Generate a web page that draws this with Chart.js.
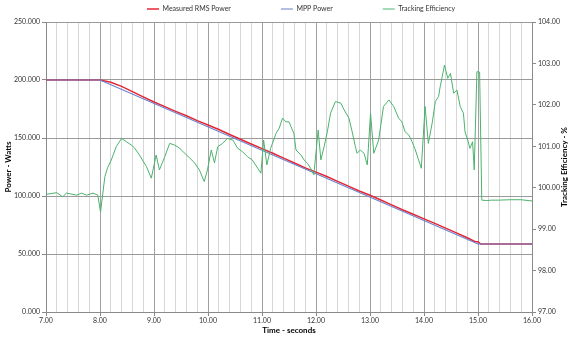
<!DOCTYPE html>
<html>
<head>
<meta charset="utf-8">
<script src="https://cdn.jsdelivr.net/npm/chart.js@4.4.1/dist/chart.umd.min.js"></script>
<style>
  body { margin: 0; background: #fff; }
  #wrap { width: 576px; height: 344px; }
</style>
</head>
<body>
<div id="wrap"><canvas id="tracking"></canvas></div>
<script>
// Measured RMS power (W)
const rmsTime = [7, 8, 8.2, 8.4, 8.6, 8.8, 9, 9.2, 9.4, 9.6, 9.8, 10, 10.2, 10.4, 10.6, 10.8, 11, 11.2, 11.4, 11.6, 11.8,
  12, 12.2, 12.4, 12.6, 12.8, 13, 13.2, 13.4, 13.6, 13.8, 14, 14.2, 14.4, 14.6, 14.8, 14.95, 15, 15.05, 16];
const rmsPower = [200, 200, 198, 194.5, 190, 185.5, 181, 177, 173, 169.2, 165, 161.2, 157.3, 153, 148.9, 144.8, 140.8, 136.8, 132.6, 128.5, 124.2,
  120.6, 116.8, 112.6, 108.5, 104.3, 100.6, 96.5, 92.4, 88.2, 84.3, 80.3, 76.4, 72.3, 68.2, 64, 60.6, 60.6, 58.6, 58.6];

// MPP power (W)
const mppTime = [7, 8, 15, 16];
const mppPower = [200, 200, 58.6, 58.6];

// tracking efficiency (%)
const effTime = [7, 7.2, 7.31, 7.38, 7.57, 7.66, 7.75, 7.87, 7.96, 8.01, 8.09, 8.14, 8.21, 8.3, 8.4, 8.49, 8.58, 8.64, 8.73, 8.86,
  8.95, 9.04, 9.1, 9.2, 9.29, 9.38, 9.47, 9.56, 9.66, 9.75, 9.84, 9.93, 9.99, 10.06, 10.12, 10.18, 10.27, 10.36, 10.46, 10.55,
  10.64, 10.73, 10.82, 10.92, 10.98, 11.03, 11.09, 11.16, 11.26, 11.32, 11.38, 11.44, 11.5, 11.59, 11.63, 11.72, 11.78, 11.84, 11.9, 11.96,
  12.04, 12.09, 12.15, 12.21, 12.27, 12.36, 12.46, 12.52, 12.61, 12.67, 12.73, 12.76, 12.82, 12.89, 12.95, 13.01, 13.07, 13.16, 13.25, 13.35,
  13.44, 13.53, 13.59, 13.65, 13.72, 13.78, 13.84, 13.9, 13.95, 14.02, 14.08, 14.15, 14.21, 14.27, 14.3, 14.38, 14.44, 14.49, 14.55, 14.61,
  14.67, 14.73, 14.76, 14.82, 14.85, 14.9, 14.93, 14.98, 15.03, 15.07, 15.16, 15.25, 15.38, 15.6, 15.8, 16];
const effValue = [99.84, 99.88, 99.78, 99.87, 99.82, 99.87, 99.82, 99.87, 99.82, 99.41, 100.27, 100.48, 100.67, 100.99, 101.19, 101.11, 101.03, 100.96, 100.79, 100.51,
  100.23, 100.79, 100.43, 100.75, 101.07, 101.03, 100.96, 100.84, 100.72, 100.6, 100.43, 100.15, 100.43, 100.91, 100.6, 100.99, 101.07, 101.19, 101.15, 100.95,
  100.87, 100.75, 100.67, 100.47, 100.35, 101.15, 100.55, 100.95, 101.31, 101.44, 101.68, 101.59, 101.59, 101.31, 100.91, 100.79, 100.67, 100.59, 100.47, 100.31,
  101.39, 100.67, 100.99, 101.35, 101.8, 102.08, 102.04, 101.88, 101.68, 101.35, 100.99, 100.83, 100.91, 100.83, 100.55, 101.8, 100.83, 101.15, 101.96, 102.12,
  101.96, 101.68, 101.59, 101.35, 101.27, 101.11, 100.91, 100.67, 100.47, 101.96, 101.07, 101.55, 102.08, 102.2, 102.44, 102.96, 102.64, 102.76, 102.28, 102.36,
  101.96, 101.8, 101.35, 101.11, 100.95, 101.11, 100.43, 102.8, 102.79, 99.7, 99.69, 99.7, 99.7, 99.71, 99.71, 99.68];

const toXY = (xs, ys) => xs.map((x, i) => ({ x: x, y: ys[i] }));
const FONT = 'Lato';
const LEG_PAD = 50;

const isMajor = v => Math.abs(v - Math.round(v)) < 1e-6;

const tweaks = {
  id: 'tweaks',
  afterLayout(chart) {
    const lg = chart.legend;
    if (!lg || !lg.lineWidths) return;
    const cur = (lg.left + LEG_PAD + lg.right - lg.lineWidths[0]) / 2;
    const dx = 147 - cur;
    lg.left += dx;
    lg.right += dx;
    lg.top = 5.5 - LEG_PAD;
  },
  afterDraw(chart) {
    const c = chart.ctx;
    const a = chart.chartArea;
    c.save();
    c.translate(564, (a.top + a.bottom) / 2);
    c.rotate(-Math.PI / 2);
    c.font = 'bold 8px ' + FONT;
    c.fillStyle = '#000';
    c.textAlign = 'center';
    c.textBaseline = 'middle';
    c.fillText('Tracking Efficiency - %', 0, 0);
    c.restore();
  }
};

const ctx = document.getElementById('tracking');
new Chart(ctx, {
  type: 'line',
  data: {
    datasets: [{
      label: 'Measured RMS Power',
      data: toXY(rmsTime, rmsPower),
      borderColor: 'rgb(228, 38, 52)',
      backgroundColor: 'rgb(228, 38, 52)',
      borderWidth: 1.5,
      yAxisID: 'y',
      order: 3
    }, {
      label: 'MPP Power',
      data: toXY(mppTime, mppPower),
      borderColor: 'rgb(104, 128, 204)',
      backgroundColor: 'rgb(104, 128, 204)',
      borderWidth: 1.2,
      yAxisID: 'y',
      order: 2
    }, {
      label: 'Tracking Efficiency',
      data: toXY(effTime, effValue),
      borderColor: 'rgb(76, 178, 108)',
      backgroundColor: 'rgb(76, 178, 108)',
      borderWidth: 1,
      yAxisID: 'y1',
      order: 1
    }]
  },
  options: {
    responsive: true,
    maintainAspectRatio: false,
    animation: false,
    elements: { point: { radius: 0 }, line: { tension: 0 } },
    plugins: {
      tooltip: { enabled: false },
      legend: {
        position: 'top',
        maxHeight: 22,
        labels: {
          sort: (a, b) => a.datasetIndex - b.datasetIndex,
          usePointStyle: true,
          pointStyle: 'line',
          pointStyleWidth: 12,
          boxHeight: 7,
          padding: LEG_PAD,
          color: '#333',
          font: { family: FONT, size: 7 }
        }
      }
    },
    scales: {
      x: {
        type: 'linear',
        min: 7,
        max: 16,
        afterFit: s => { s.height = 32; },
        ticks: {
          stepSize: 0.2,
          maxTicksLimit: 100,
          autoSkip: false,
          maxRotation: 0,
          padding: 1,
          color: '#333',
          font: { family: FONT, size: 7 },
          callback: v => isMajor(v) ? v.toFixed(2) : ''
        },
        grid: {
          color: c => isMajor(c.tick.value) ? '#a0a0a0' : '#d6d6d6',
          tickColor: c => isMajor(c.tick.value) ? '#8a8a8a' : 'rgba(0,0,0,0)',
          tickLength: 4
        },
        border: { color: '#8a8a8a' },
        title: {
          display: true,
          text: 'Time - seconds',
          color: '#000',
          padding: { top: 2, bottom: 9 },
          font: { family: FONT, size: 8, weight: 'bold' }
        }
      },
      y: {
        position: 'left',
        min: 0,
        max: 250,
        afterFit: s => { s.width = 46; },
        ticks: {
          stepSize: 50,
          padding: 2,
          color: '#333',
          font: { family: FONT, size: 7 },
          callback: v => v.toFixed(3)
        },
        grid: { color: '#9a9a9a', tickColor: '#8a8a8a', tickLength: 4 },
        border: { color: '#8a8a8a' },
        title: {
          display: true,
          text: 'Power - Watts',
          color: '#000',
          padding: { top: 4, bottom: 4 },
          font: { family: FONT, size: 8, weight: 'bold' }
        }
      },
      y1: {
        position: 'right',
        min: 97,
        max: 104,
        afterFit: s => { s.width = 44; },
        ticks: {
          stepSize: 1,
          padding: 2,
          color: '#333',
          font: { family: FONT, size: 7 },
          callback: v => v.toFixed(2)
        },
        grid: { drawOnChartArea: false, tickColor: '#8a8a8a', tickLength: 4 },
        border: { color: '#8a8a8a' }
      }
    }
  },
  plugins: [tweaks]
});
</script>
</body>
</html>
